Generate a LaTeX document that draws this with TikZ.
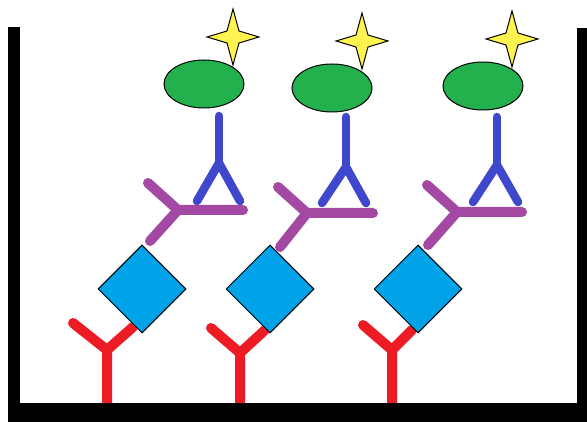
\documentclass[tikz,border=0pt]{standalone}
\usetikzlibrary{shapes.geometric}

\definecolor{enzgreen}{HTML}{22B14C}
\definecolor{probeblue}{HTML}{3F48CC}
\definecolor{linkpurple}{HTML}{A349A4}
\definecolor{capturered}{HTML}{ED1C24}
\definecolor{antigencyan}{HTML}{00A2E8}
\definecolor{flashyellow}{HTML}{FFF350}

\tikzset{
  enzyme/.style={ellipse, draw=black, line width=1pt, fill=enzgreen,
    minimum width=80pt, minimum height=48pt, inner sep=0pt},
  antigen/.style={diamond, draw=black, line width=1pt, fill=antigencyan,
    minimum width=88pt, minimum height=88pt, inner sep=0pt},
  glow/.style={draw=black, line width=1pt, fill=flashyellow, line join=miter},
  detect/.style={draw=probeblue, line width=8.5pt, line cap=round, line join=round},
  second/.style={draw=linkpurple, line width=10pt, line cap=round, line join=round},
  capture/.style={draw=capturered, line width=10pt, line cap=round, line join=round},
  wall/.style={fill=black},
  sparkle/.pic={
    \draw[glow] (0,-28) -- (6,-6) -- (26,0) -- (6,6) -- (0,28)
      -- (-6,6) -- (-26,0) -- (-6,-6) -- cycle;
  },
}

\begin{document}
\begin{tikzpicture}[x=1pt, y=-1pt]
  \useasboundingbox (0,0) rectangle (587,422);
  \fill[white] (0,0) rectangle (587,422);

  % ---- capture antibodies (red), standing on the well floor ----
  \coordinate (r1base) at (107,403);  \coordinate (r1fork) at (107,350);
  \coordinate (r1left) at (73,323);   \coordinate (r1right) at (133,327);
  \coordinate (r2base) at (240,403);  \coordinate (r2fork) at (240,353);
  \coordinate (r2left) at (211,328);  \coordinate (r2right) at (265,330);
  \coordinate (r3base) at (392,403);  \coordinate (r3fork) at (392,350);
  \coordinate (r3left) at (363,325);  \coordinate (r3right) at (412,330);
  \foreach \i in {1,2,3} {
    \draw[capture] (r\i base) -- (r\i fork) -- (r\i left);
    \draw[capture] (r\i fork) -- (r\i right);
  }

  % ---- detection antibodies (blue) ----
  \coordinate (b1top) at (219,116);  \coordinate (b1fork) at (219,163);
  \coordinate (b1left) at (197,201); \coordinate (b1right) at (240,201);
  \coordinate (b2top) at (346,117);  \coordinate (b2fork) at (346,167);
  \coordinate (b2left) at (322,203); \coordinate (b2right) at (366,203);
  \coordinate (b3top) at (497,117);  \coordinate (b3fork) at (497,165);
  \coordinate (b3left) at (473,202); \coordinate (b3right) at (518,202);
  \foreach \i in {1,2,3} {
    \draw[detect] (b\i left) -- (b\i fork) -- (b\i right);
    \draw[detect] (b\i fork) -- (b\i top);
  }

  % ---- secondary antibodies (purple) ----
  \coordinate (p1join) at (178,210); \coordinate (p1bar) at (243,210);
  \coordinate (p1up) at (148,183);   \coordinate (p1down) at (150,241);
  \coordinate (p2join) at (307,213); \coordinate (p2bar) at (373,213);
  \coordinate (p2up) at (278,187);   \coordinate (p2down) at (280,247);
  \coordinate (p3join) at (457,212); \coordinate (p3bar) at (522,212);
  \coordinate (p3up) at (427,185);   \coordinate (p3down) at (428,245);
  \foreach \i in {1,2,3} {
    \draw[second] (p\i up) -- (p\i join) -- (p\i bar);
    \draw[second] (p\i join) -- (p\i down);
  }

  % ---- antigens ----
  \node[antigen] (ag1) at (142,289) {};
  \node[antigen] (ag2) at (270,289) {};
  \node[antigen] (ag3) at (418,289) {};

  % ---- enzyme labels and their signal ----
  \pic (sp1) at (233,37) {sparkle};
  \pic (sp2) at (362,41) {sparkle};
  \pic (sp3) at (512,39) {sparkle};
  \node[enzyme] (en1) at (204,84) {};
  \node[enzyme] (en2) at (332,88) {};
  \node[enzyme] (en3) at (483,86) {};

  % ---- well walls ----
  \fill[wall] (8,27) rectangle (20,422);
  \fill[wall] (577,28) rectangle (587,422);
  \fill[wall] (8,403) rectangle (587,422);
\end{tikzpicture}
\end{document}
